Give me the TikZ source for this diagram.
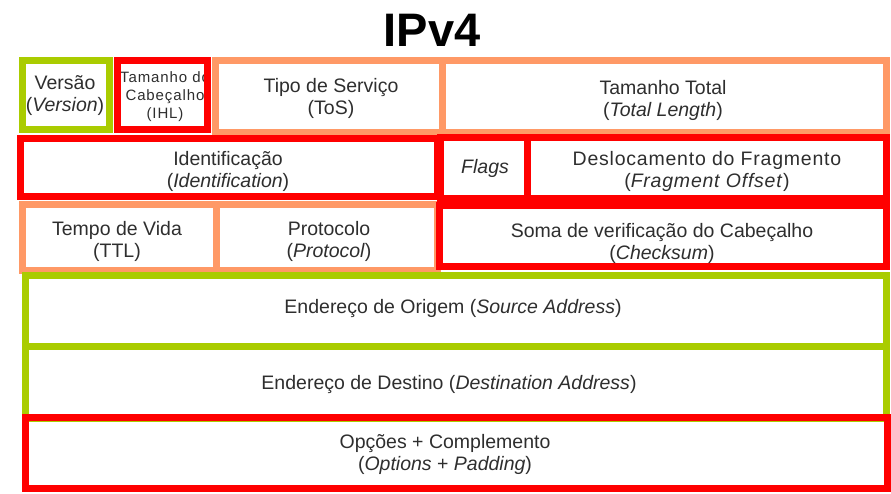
\documentclass[tikz,border=0pt]{standalone}
\usepackage{fontspec}
\setmainfont{Liberation Sans}
\usetikzlibrary{positioning}
\definecolor{hdrgreen}{HTML}{AACC00}
\definecolor{hdrorange}{HTML}{FF9966}
\definecolor{hdrred}{HTML}{FF0000}
\definecolor{txtgray}{HTML}{2E2E2E}
\tikzset{
  greenbox/.style={draw=hdrgreen,line width=7pt},
  orangebox/.style={draw=hdrorange,line width=7pt},
  redbox/.style={draw=hdrred,line width=7pt},
  field/.style={text=txtgray,align=center,inner sep=0pt,font=\fontsize{19.5}{22}\selectfont},
  smallfield/.style={field,font=\fontsize{15}{18}\selectfont\addfontfeature{LetterSpace=6}}
}
\begin{document}
\begin{tikzpicture}[x=1pt,y=-1pt]
\useasboundingbox (0,0) rectangle (891,493);
\node[font=\fontsize{47}{50}\selectfont\bfseries,inner sep=0pt] (title) at (432,30) {IPv4};
% green and orange frames first
\draw[greenbox] (22.5,60.5) rectangle (109,129);
\draw[orangebox] (215.5,60.5) rectangle (886.5,132);
\draw[orangebox] (442,60.5) -- (442,132);
\draw[orangebox] (22.5,204.5) rectangle (437,270);
\draw[orangebox] (216,204.5) -- (216,270);
\draw[greenbox] (25.5,275.5) rectangle (886.5,418);
\draw[greenbox] (25.5,346.5) -- (886.5,346.5);
% header length text is cut by its frame
\begin{scope}
\clip (121,64) rectangle (204,126);
\node[smallfield] (ihl) at (165,97) {Tamanho do\\Cabeçalho\\(IHL)};
\end{scope}
% red frames on top
\draw[redbox] (117.5,60.5) rectangle (207.5,129.5);
\draw[redbox] (20.5,138.5) rectangle (437,196);
\draw[redbox] (440,137) rectangle (886.5,198.5);
\draw[redbox] (527,137) -- (527,198.5);
\draw[redbox] (439,205.5) rectangle (886.5,266.5);
\draw[redbox] (25.5,417) rectangle (887,488.5);
% texts
\node[field] (version) at (65,96) {Versão\\(\textit{Version})};
\node[field] (tos) at (331,98) {Tipo de Serviço\\(ToS)};
\node[field] (totlen) at (663,100) {Tamanho Total\\(\textit{Total Length})};
\node[field] (ident) at (228,171) {Identificação\\(\textit{Identification})};
\node[field,font=\fontsize{19.5}{22}\selectfont\itshape] (flags) at (485,168) {Flags};
\node[field,font=\fontsize{19.5}{22}\selectfont\addfontfeature{LetterSpace=4}] (fragoff) at (707,171) {Deslocamento do Fragmento\\(\textit{Fragment Offset})};
\node[field] (ttl) at (117,241) {Tempo de Vida\\(TTL)};
\node[field] (proto) at (329,241) {Protocolo\\(\textit{Protocol})};
\node[field] (checksum) at (662,243) {Soma de verificação do Cabeçalho\\(\textit{Checksum})};
\node[field] (srcaddr) at (453,308) {Endereço de Origem (\textit{Source Address})};
\node[field] (dstaddr) at (449,384) {Endereço de Destino (\textit{Destination Address})};
\node[field] (options) at (445,454) {Opções + Complemento\\(\textit{Options} + \textit{Padding})};
\end{tikzpicture}
\end{document}
